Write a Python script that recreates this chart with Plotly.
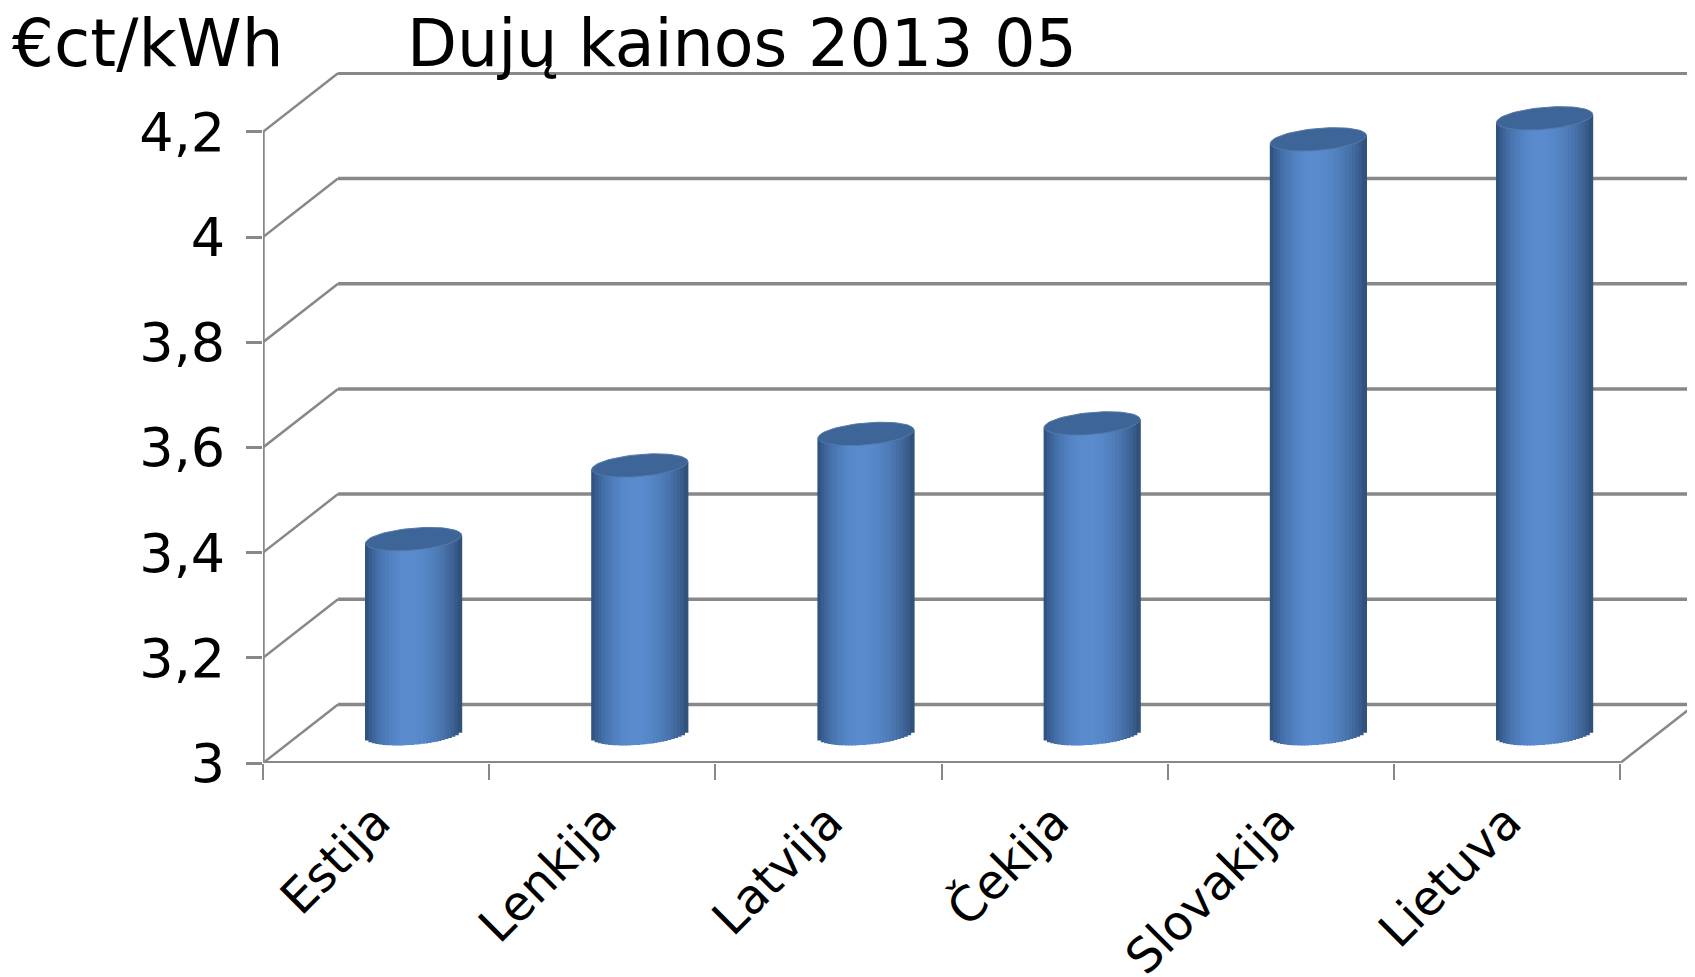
import numpy as np
import plotly.graph_objects as go

# ---------------- data ----------------
categories = ["Estija", "Lenkija", "Latvija", "Čekija", "Slovakija", "Lietuva"]
prices = [3.37, 3.51, 3.57, 3.59, 4.13, 4.17]
y_tick_vals = [3.0, 3.2, 3.4, 3.6, 3.8, 4.0, 4.2]
y_tick_text = ["3", "3,2", "3,4", "3,6", "3,8", "4", "4,2"]
title_text = "Dujų kainos 2013 05"
unit_text = "€ct/kWh"

# ---------------- layout geometry ----------------
PAGE_PAD = 8                      # default body margin of the html page
W, H = 1695, 977
ML, MR, MT, MB = 255, 8, 64, 222
plot_w = W - ML - MR
plot_h = H - MT - MB
px_per_cat = 226.2
px_per_unit = 526.0
x_range = [-0.5, -0.5 + plot_w / px_per_cat]
y_range = [3.0, 3.0 + plot_h / px_per_unit]

depth_x = 75 / px_per_cat          # 3D depth offset in data units
depth_y = 58.5 / px_per_unit
n = len(categories)
x_left, x_right = -0.5, n - 0.5
y_min, y_max = y_tick_vals[0], y_tick_vals[-1]

grid_color = "#888888"
FONT = "DejaVu Sans"

fig = go.Figure()

# ---------------- cylinders ----------------
bar_w = 96 / px_per_cat
ell_b = 11 / px_per_unit          # ellipse semi-minor (data units)
ell_s = 4 / px_per_unit           # tilt of ellipse
base_c = y_min + depth_y / 2
centers = np.arange(n) + depth_x / 2

dark_l = np.array([0x2a, 0x4a, 0x76])
light = np.array([0x5a, 0x8c, 0xcf])
dark_r = np.array([0x2c, 0x4a, 0x70])

N = 28
for k in range(N):
    u = -1 + (2 * k + 1) / N
    t = (u + 1) / 2
    t0 = 0.45
    if t < t0:
        s = t / t0
        dark = dark_l
    else:
        s = (1 - t) / (1 - t0)
        dark = dark_r
    w = np.sin(s * np.pi / 2) ** 0.7
    c = dark + (light - dark) * w
    col = "rgb(%d,%d,%d)" % tuple(c.astype(int))
    root = np.sqrt(max(0.0, 1 - u * u))
    base_k = base_c - ell_b * root + ell_s * u
    tops = [v + depth_y / 2 + ell_s * u for v in prices]
    fig.add_trace(go.Bar(
        x=centers + u * bar_w / 2,
        y=[tp - base_k for tp in tops],
        base=base_k,
        width=bar_w / N * 1.35,
        marker=dict(color=col, line=dict(width=0)),
        hoverinfo="skip",
        showlegend=False,
    ))

theta = np.linspace(0, 2 * np.pi, 80)
for cx, v in zip(centers, prices):
    yc = v + depth_y / 2
    ex = cx + bar_w / 2 * np.cos(theta)
    ey = yc + ell_b * np.sin(theta) + ell_s * np.cos(theta)
    fig.add_trace(go.Scatter(
        x=ex, y=ey, mode="lines", fill="toself",
        fillcolor="#3d6597", line=dict(color="#5579aa", width=1),
        hoverinfo="skip", showlegend=False,
    ))

# ---------------- 3D walls / grid ----------------
shapes = []
line = dict(color=grid_color, width=3.5)
for v in y_tick_vals:
    shapes.append(dict(type="line", xref="x", yref="y", layer="below",
                       x0=x_left + depth_x, x1=x_right + depth_x,
                       y0=v + depth_y, y1=v + depth_y, line=line))
    shapes.append(dict(type="line", xref="x", yref="y", layer="below",
                       x0=x_left, x1=x_left + depth_x,
                       y0=v, y1=v + depth_y, line=dict(color=grid_color, width=2.5)))
shapes.append(dict(type="line", xref="x", yref="y", layer="below",
                   x0=x_left, x1=x_left, y0=y_min, y1=y_max, line=line))
shapes.append(dict(type="line", xref="x", yref="y", layer="below",
                   x0=x_left, x1=x_right, y0=y_min, y1=y_min, line=dict(color=grid_color, width=4)))
shapes.append(dict(type="line", xref="x", yref="y", layer="below",
                   x0=x_right, x1=x_right + depth_x, y0=y_min, y1=y_min + depth_y,
                   line=dict(color=grid_color, width=2.5)))


def paper_x(px):
    return (px - PAGE_PAD - ML) / plot_w


def paper_y(py):
    return 1 + (MT + PAGE_PAD - py) / plot_h


fig.update_layout(
    width=W, height=H,
    margin=dict(l=ML, r=MR, t=MT, b=MB, pad=0, autoexpand=False),
    paper_bgcolor="white", plot_bgcolor="white",
    shapes=shapes,
    showlegend=False,
    barmode="overlay",
    font=dict(family=FONT, color="black"),
    xaxis=dict(
        range=x_range, showgrid=False, zeroline=False, showline=False,
        automargin=False, fixedrange=True,
        tickmode="array", tickvals=list(range(n)), ticktext=categories,
        ticks="", tickangle=-45, ticklabelstandoff=20,
        tickfont=dict(size=48, family=FONT, color="black"),
        minor=dict(tickmode="array", tickvals=[i - 0.5 for i in range(n + 1)],
                   ticks="outside", ticklen=16, tickwidth=2, tickcolor=grid_color,
                   showgrid=False),
    ),
    yaxis=dict(
        range=y_range, showgrid=False, zeroline=False, showline=False,
        automargin=False, fixedrange=True,
        tickmode="array", tickvals=y_tick_vals, ticktext=y_tick_text,
        ticks="outside", ticklen=16, tickwidth=2.5, tickcolor=grid_color,
        ticklabelstandoff=10,
        tickfont=dict(size=54, family=FONT, color="black"),
    ),
    annotations=[
        dict(text=unit_text, xref="paper", yref="paper",
             x=paper_x(10), y=paper_y(43),
             xanchor="left", yanchor="middle", showarrow=False,
             font=dict(size=66, family=FONT, color="black")),
        dict(text=title_text, xref="paper", yref="paper",
             x=paper_x(405), y=paper_y(43),
             xanchor="left", yanchor="middle", showarrow=False,
             font=dict(size=65, family=FONT, color="black")),
    ],
)

fig.write_html("out.html")
